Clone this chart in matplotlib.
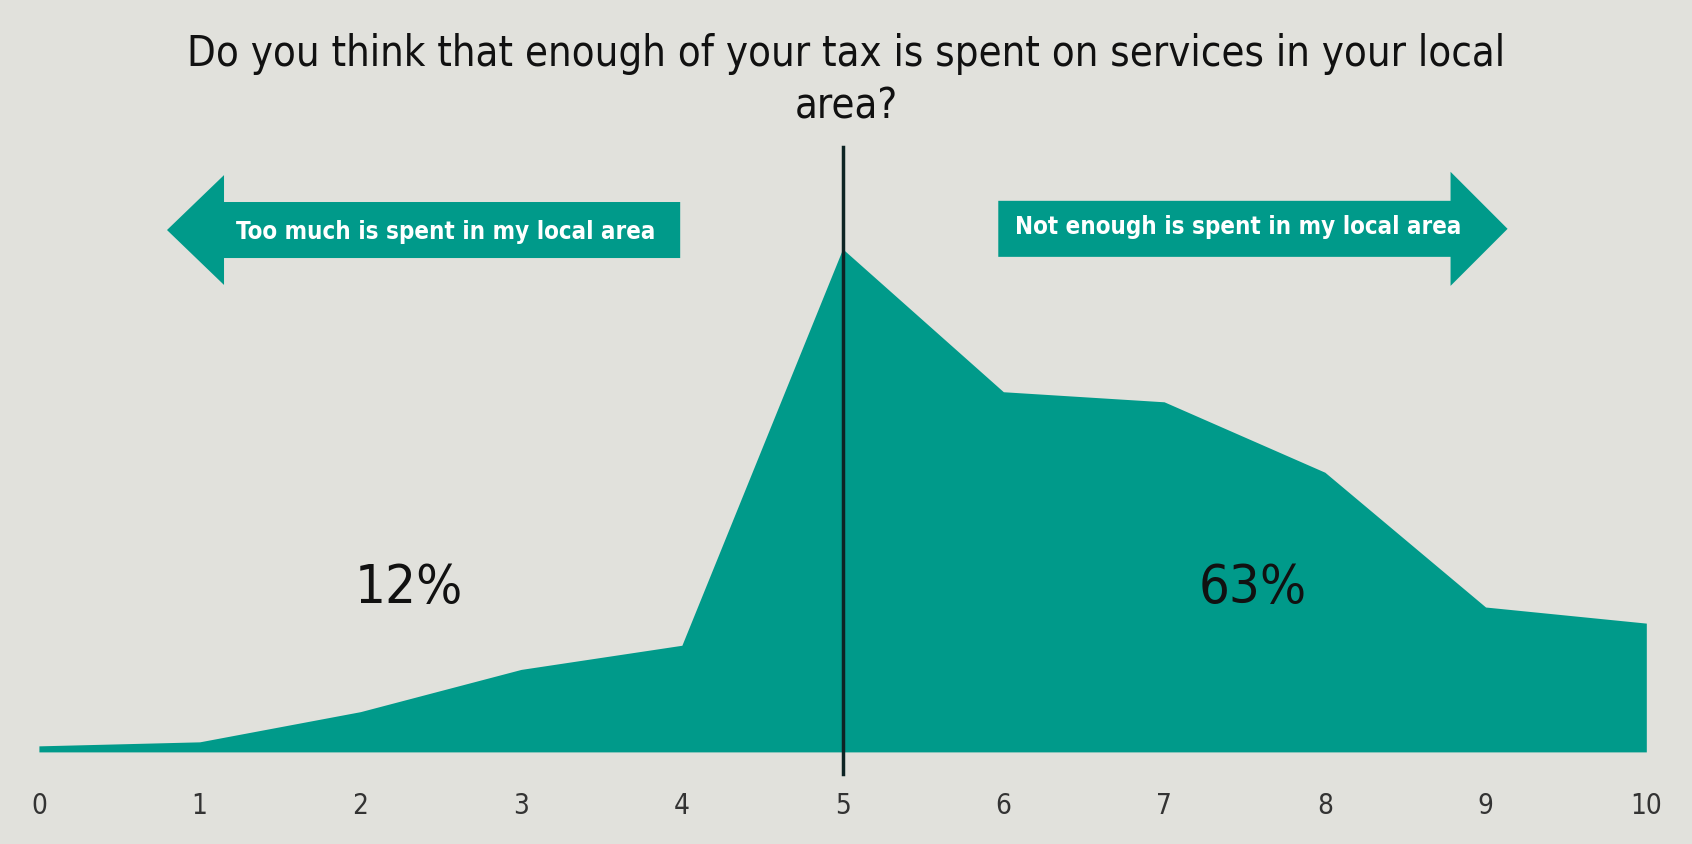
import numpy as np
import matplotlib
matplotlib.use("Agg")
import matplotlib.pyplot as plt
from matplotlib.patches import FancyArrow

# score 0-10, share of respondents (%)
scores = [0, 1, 2, 3, 4, 5, 6, 7, 8, 9, 10]
share = [0.3, 0.5, 2.0, 4.1, 5.3, 25.0, 17.9, 17.4, 13.9, 7.2, 6.4]
tick_labels = [str(s) for s in scores]
title = "Do you think that enough of your tax is spent on services in your local\narea?"
left_label = "Too much is spent in my local area"
right_label = "Not enough is spent in my local area"
left_pct = "12%"
right_pct = "63%"

bg = "#E1E1DC"
teal = "#009A8A"
fam = ["DejaVu Sans"]

fig = plt.figure(figsize=(16.92, 8.45), dpi=100, facecolor=bg)
ax = fig.add_axes([0.023, 0.109, 0.950, 0.716])
ax.set_facecolor(bg)

ax.fill_between(scores, share, 0, color=teal, lw=0)
ax.set_xlim(0, 10)
ax.set_ylim(0, 30.07)

# divider at the midpoint
ax.plot([5, 5], [-1.1, 30.07], color="#0d2424", lw=2.5, clip_on=False)

ax.set_xticks(scores)
ax.set_xticklabels(tick_labels, fontsize=20, color="#333333", family=fam, stretch="condensed")
ax.tick_params(axis="x", length=0, pad=28)
ax.set_yticks([])
for s in ax.spines.values():
    s.set_visible(False)

ax.text(2.3, 8.2, left_pct, fontsize=39, ha="center", va="center", color="#111111",
        family=fam, stretch="condensed")
ax.text(7.55, 8.2, right_pct, fontsize=39, ha="center", va="center", color="#111111",
        family=fam, stretch="condensed")

fig.text(0.5, 0.905, title, ha="center", va="center", fontsize=30, color="#111111",
         family=fam, stretch="condensed", linespacing=1.3)

# direction arrows
la = FancyArrow(0.402, 0.7266, -0.3033, 0, width=0.0663, head_width=0.130,
                head_length=0.0337, length_includes_head=True, color=teal,
                transform=fig.transFigure, lw=0)
ra = FancyArrow(0.590, 0.728, 0.301, 0, width=0.0663, head_width=0.135,
                head_length=0.0337, length_includes_head=True, color=teal,
                transform=fig.transFigure, lw=0)
fig.patches.extend([la, ra])

fig.text(0.2634, 0.725, left_label, ha="center", va="center", fontsize=17.3,
         fontweight="bold", color="white", family=fam, stretch="condensed")
fig.text(0.732, 0.731, right_label, ha="center", va="center", fontsize=17.3,
         fontweight="bold", color="white", family=fam, stretch="condensed")

fig.savefig("out.png", dpi=100, facecolor=bg)
